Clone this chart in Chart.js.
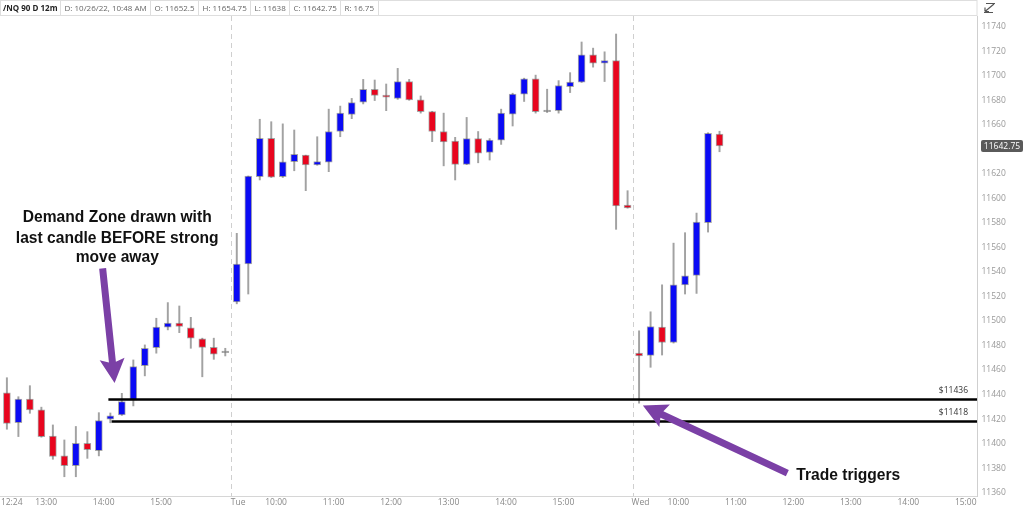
<!DOCTYPE html>
<html>
<head>
<meta charset="utf-8">
<script src="https://cdn.jsdelivr.net/npm/chart.js@4.4.1/dist/chart.umd.min.js"></script>
<style>
html,body{margin:0;padding:0;background:#fff;overflow:hidden;}
#c{display:block;}
</style>
</head>
<body>
<canvas id="c" width="1024" height="510"></canvas>
<script>
// ---- data (12-minute candles) ----
const times = [
 '12:24','12:36','12:48','13:00','13:12','13:24','13:36','13:48','14:00','14:12','14:24','14:36','14:48','15:00','15:12','15:24','15:36','15:48','16:00','16:12',
 '09:24','09:36','09:48','10:00','10:12','10:24','10:36','10:48','11:00','11:12','11:24','11:36','11:48','12:00','12:12','12:24','12:36','12:48','13:00','13:12','13:24','13:36','13:48','14:00','14:12','14:24','14:36','14:48','15:00','15:12','15:24','15:36','15:48','16:00','16:12',
 '09:24','09:36','09:48','10:00','10:12','10:24','10:36','10:48'
];
const open = [
 11441.5,11417,11436.25,11427.5,11406.25,11390,11382,11400.25,11394.25,11420,11423.5,11435.5,11463.5,11478.25,11495,11498.25,11494.5,11485.5,11478.5,11474.25,
 11515.5,11546.5,11617.75,11649,11617.75,11630,11635.25,11627.25,11629.5,11654.5,11668.5,11678.5,11689,11684.25,11681.5,11695.25,11680.25,11670.75,11654.5,11646.75,11627.75,11648.75,11637.5,11647.5,11668.75,11685,11697.5,11670.75,11671.5,11691,11694.75,11717,11710.25,11712.25,11594.5,
 11473.75,11472,11495,11482.5,11529.5,11537.25,11580.25,11652.5
];
const high = [
 11453.75,11438.25,11447.25,11429.75,11415.25,11403,11414,11409.75,11425.25,11425,11441,11468.25,11480.5,11502.25,11515,11512.25,11503,11486,11486,11477.75,
 11571.5,11618.25,11664.5,11662.5,11660.75,11655.75,11635.25,11650.25,11672.75,11675.25,11681.5,11697,11696.5,11693.25,11706,11697,11683.5,11671,11669.5,11649.75,11666,11654.5,11648.75,11672.75,11685.75,11698,11700.5,11689,11696,11702.5,11727.5,11722.5,11719.5,11734,11606.25,
 11492,11507.5,11529.5,11563.5,11572,11588,11653.5,11654.75
];
const low = [
 11411.75,11405.75,11424.75,11405.25,11387.25,11373,11373,11388,11390,11417,11423,11430.75,11455.25,11473.75,11492.75,11490.5,11477.75,11454.5,11468.75,11471.5,
 11514,11522,11615,11617,11617,11622.5,11606.25,11627,11621.75,11650.25,11665,11677,11679.75,11671.5,11680.75,11680,11669.5,11646.25,11626.5,11615,11627.5,11629,11631.25,11644,11659,11679,11669.5,11670,11669.5,11686.25,11694.5,11707,11695.25,11574.75,11592,
 11433,11462.25,11472.25,11482,11522,11522.5,11572.5,11638
];
const close = [
 11416.5,11436.25,11427.5,11405.75,11389.5,11382,11400.25,11395,11418.75,11422.75,11434.25,11462.75,11477.75,11495,11498.25,11495.5,11486,11478.5,11473,11474.25,
 11546.5,11618.25,11649,11617.25,11629.75,11636,11627.25,11630,11654.5,11669.5,11678,11689,11684,11682.5,11695.25,11680.25,11670.75,11654.5,11646,11627.75,11648.75,11636.75,11647.5,11669.5,11685,11697.5,11670.75,11670.75,11692,11694.75,11717,11710.25,11712.25,11593.75,11592.25,
 11471.5,11495.5,11482.5,11529.5,11536.75,11580.75,11653,11642.75
];
const yTicks = [11360,11380,11400,11420,11440,11460,11480,11500,11520,11540,11560,11580,11600,11620,11640,11660,11680,11700,11720,11740];
const xTickSlots  = [0,3,8,13,20,23,28,33,38,43,48,55,58,63,68,73,78,83];
const xTickLabels = ['12:24','13:00','14:00','15:00','Tue','10:00','11:00','12:00','13:00','14:00','15:00','Wed','10:00','11:00','12:00','13:00','14:00','15:00'];
const zoneLevels = [11436, 11418];
const zoneLabels = ['$11436', '$11418'];
const headerItems = ['/NQ 90 D 12m','D: 10/26/22, 10:48 AM','O: 11652.5','H: 11654.75','L: 11638','C: 11642.75','R: 16.75'];
const lastPrice = 11642.75;
const noteLines = ['Demand Zone drawn with','last candle BEFORE strong','move away'];
const noteTrade = 'Trade triggers';

// ---- styling / annotation placement (data coordinates) ----
const BLUE = '#0a0af5', RED = '#e8051e', GREY = '#8a8a8a';
const ann = {
  zoneFrom: [8.83, 9.11],
  arrow1: {from: [8.33, 11543], to: [9.37, 11449.5]},
  arrow2: {from: [67.9, 11376], to: [55.33, 11431]},
  noteX: 9.6, noteY: [11584, 11567, 11551.4],
  tradeX: 73.2, tradeY: 11373.7
};

const idx = times.map((_, i) => i);
const bodyColors = idx.map(i => close[i] > open[i] ? BLUE : (close[i] < open[i] ? RED : GREY));
const breaks = idx.filter(i => i > 0 && times[i] < times[i-1]).map(i => i - 0.5);

function arrow(ctx, x1, y1, x2, y2, shaftW, headL, headW) {
  const dx = x2 - x1, dy = y2 - y1, L = Math.hypot(dx, dy), ux = dx / L, uy = dy / L, px = -uy, py = ux;
  const bx = x2 - ux * headL, by = y2 - uy * headL;
  ctx.beginPath();
  ctx.moveTo(x1 + px * shaftW / 2, y1 + py * shaftW / 2);
  ctx.lineTo(bx + px * shaftW / 2, by + py * shaftW / 2);
  ctx.lineTo(bx + px * headW - ux * 3, by + py * headW - uy * 3);
  ctx.lineTo(x2, y2);
  ctx.lineTo(bx - px * headW - ux * 3, by - py * headW - uy * 3);
  ctx.lineTo(bx - px * shaftW / 2, by - py * shaftW / 2);
  ctx.lineTo(x1 - px * shaftW / 2, y1 - py * shaftW / 2);
  ctx.closePath();
  ctx.fill();
}

const overlay = {
  id: 'overlay',
  beforeDatasetsDraw(chart) {
    const {ctx, chartArea: a, scales: {x}} = chart;
    ctx.save();
    ctx.strokeStyle = '#cfcfcf';
    ctx.lineWidth = 1;
    ctx.setLineDash([5, 4]);
    breaks.forEach(b => {
      const px = Math.round(x.getPixelForValue(b)) + 0.5;
      ctx.beginPath(); ctx.moveTo(px, a.top); ctx.lineTo(px, a.bottom); ctx.stroke();
    });
    ctx.restore();
  },
  afterDatasetsDraw(chart) {
    const {ctx, chartArea: a, scales: {x, y}} = chart;
    ctx.save();
    // demand zone lines
    ctx.strokeStyle = '#000';
    ctx.lineWidth = 2.5;
    zoneLevels.forEach((lv, k) => {
      const py = y.getPixelForValue(lv);
      ctx.beginPath(); ctx.moveTo(x.getPixelForValue(ann.zoneFrom[k]), py); ctx.lineTo(a.right, py); ctx.stroke();
      ctx.fillStyle = '#333';
      ctx.font = '8.5px "Open Sans"';
      ctx.textAlign = 'right'; ctx.textBaseline = 'middle';
      ctx.fillText(zoneLabels[k], a.right - 9, py - 9);
    });
    // arrows
    ctx.fillStyle = '#7b40a6';
    [ann.arrow1, ann.arrow2].forEach(ar => {
      arrow(ctx, x.getPixelForValue(ar.from[0]), y.getPixelForValue(ar.from[1]),
                 x.getPixelForValue(ar.to[0]), y.getPixelForValue(ar.to[1]), 7, 21, 12.5);
    });
    // notes
    ctx.fillStyle = '#111';
    ctx.font = 'bold 15.6px "Liberation Sans", Arial, sans-serif';
    ctx.textAlign = 'center'; ctx.textBaseline = 'middle';
    noteLines.forEach((t, k) => ctx.fillText(t, x.getPixelForValue(ann.noteX), y.getPixelForValue(ann.noteY[k])));
    ctx.fillText(noteTrade, x.getPixelForValue(ann.tradeX), y.getPixelForValue(ann.tradeY));
    ctx.restore();
  },
  afterDraw(chart) {
    const {ctx, chartArea: a, scales: {y}} = chart;
    ctx.save();
    // clip the lowest axis label at the plot bottom, as in the original
    ctx.fillStyle = '#fff';
    ctx.fillRect(a.right + 1, a.bottom + 1, 1024 - a.right, 510 - a.bottom);
    // header bar
    ctx.fillRect(0, 0, a.right, 15);
    ctx.strokeStyle = '#dedede';
    ctx.lineWidth = 1;
    ctx.textBaseline = 'middle';
    let hx = 0.5;
    headerItems.forEach((t, k) => {
      ctx.font = (k === 0 ? 'bold ' : '') + '8px "Open Sans"';
      const w = Math.round(ctx.measureText(t).width + (k === 0 ? 6 : 8));
      ctx.strokeRect(hx, 0.5, w, 15);
      ctx.fillStyle = k === 0 ? '#222' : '#666';
      ctx.fillText(t, hx + (k === 0 ? 2.5 : 4), 8.5);
      hx += w;
    });
    ctx.strokeRect(hx, 0.5, a.right - hx, 15);
    // top-right icon
    ctx.strokeStyle = '#555';
    ctx.lineWidth = 1.2;
    ctx.beginPath();
    ctx.moveTo(986, 3.5); ctx.lineTo(995, 3.5);
    ctx.moveTo(994, 4); ctx.lineTo(985, 11.5);
    ctx.moveTo(984, 12.5); ctx.lineTo(993, 12.5);
    ctx.moveTo(985, 11.5); ctx.lineTo(985, 7.5);
    ctx.moveTo(985, 11.5); ctx.lineTo(989, 11.5);
    ctx.stroke();
    // last price tag
    const py = y.getPixelForValue(lastPrice);
    ctx.fillStyle = '#5a5a5a';
    ctx.beginPath();
    ctx.roundRect(981, py - 6, 42, 12, 2);
    ctx.fill();
    ctx.fillStyle = '#fff';
    ctx.font = '8.5px "Open Sans"';
    ctx.textAlign = 'center';
    ctx.fillText(lastPrice.toFixed(2), 1002, py + 0.5);
    ctx.restore();
  }
};

new Chart(document.getElementById('c'), {
  type: 'bar',
  data: {
    datasets: [
      {
        label: 'wick',
        data: idx.map(i => ({x: i, y: [low[i], high[i]]})),
        backgroundColor: '#a2a2a2',
        barThickness: 1.3,
        minBarLength: 1,
        grouped: false,
        order: 2
      },
      {
        label: 'body',
        data: idx.map(i => ({x: i, y: [open[i], close[i]]})),
        backgroundColor: bodyColors,
        borderColor: 'rgba(100,100,100,0.55)',
        borderWidth: 1,
        borderSkipped: false,
        barThickness: 7,
        minBarLength: 1.5,
        grouped: false,
        order: 1
      }
    ]
  },
  options: {
    responsive: false,
    animation: false,
    events: [],
    layout: {padding: {top: 16, left: 0, right: 0, bottom: 0}},
    plugins: {legend: {display: false}, tooltip: {enabled: false}},
    scales: {
      x: {
        type: 'linear',
        min: -0.6,
        max: 84.4,
        offset: false,
        grid: {display: false, drawTicks: false},
        border: {color: '#d6d6d6'},
        afterBuildTicks: s => { s.ticks = xTickSlots.map((v, k) => ({value: v + (/^\d/.test(xTickLabels[k]) ? 0.42 : 0.12)})); },
        afterFit: s => { s.height = 14; s.paddingLeft = 0; s.paddingRight = 0; },
        ticks: {
          autoSkip: false, maxRotation: 0, padding: 1.5,
          color: '#888', font: {family: 'Open Sans', size: 8.5},
          callback: (v, k) => xTickLabels[k]
        }
      },
      y: {
        position: 'right',
        min: 11357.3,
        max: 11748.7,
        grid: {display: false, drawTicks: false},
        border: {color: '#cfcfcf'},
        afterBuildTicks: s => { s.ticks = yTicks.map(v => ({value: v})); },
        afterFit: s => { s.width = 47; s.paddingTop = 0; s.paddingBottom = 0; },
        ticks: {
          padding: 4.5,
          color: '#999', font: {family: 'Open Sans', size: 8.5},
          callback: v => String(v)
        }
      }
    }
  },
  plugins: [overlay]
});
</script>
</body>
</html>
